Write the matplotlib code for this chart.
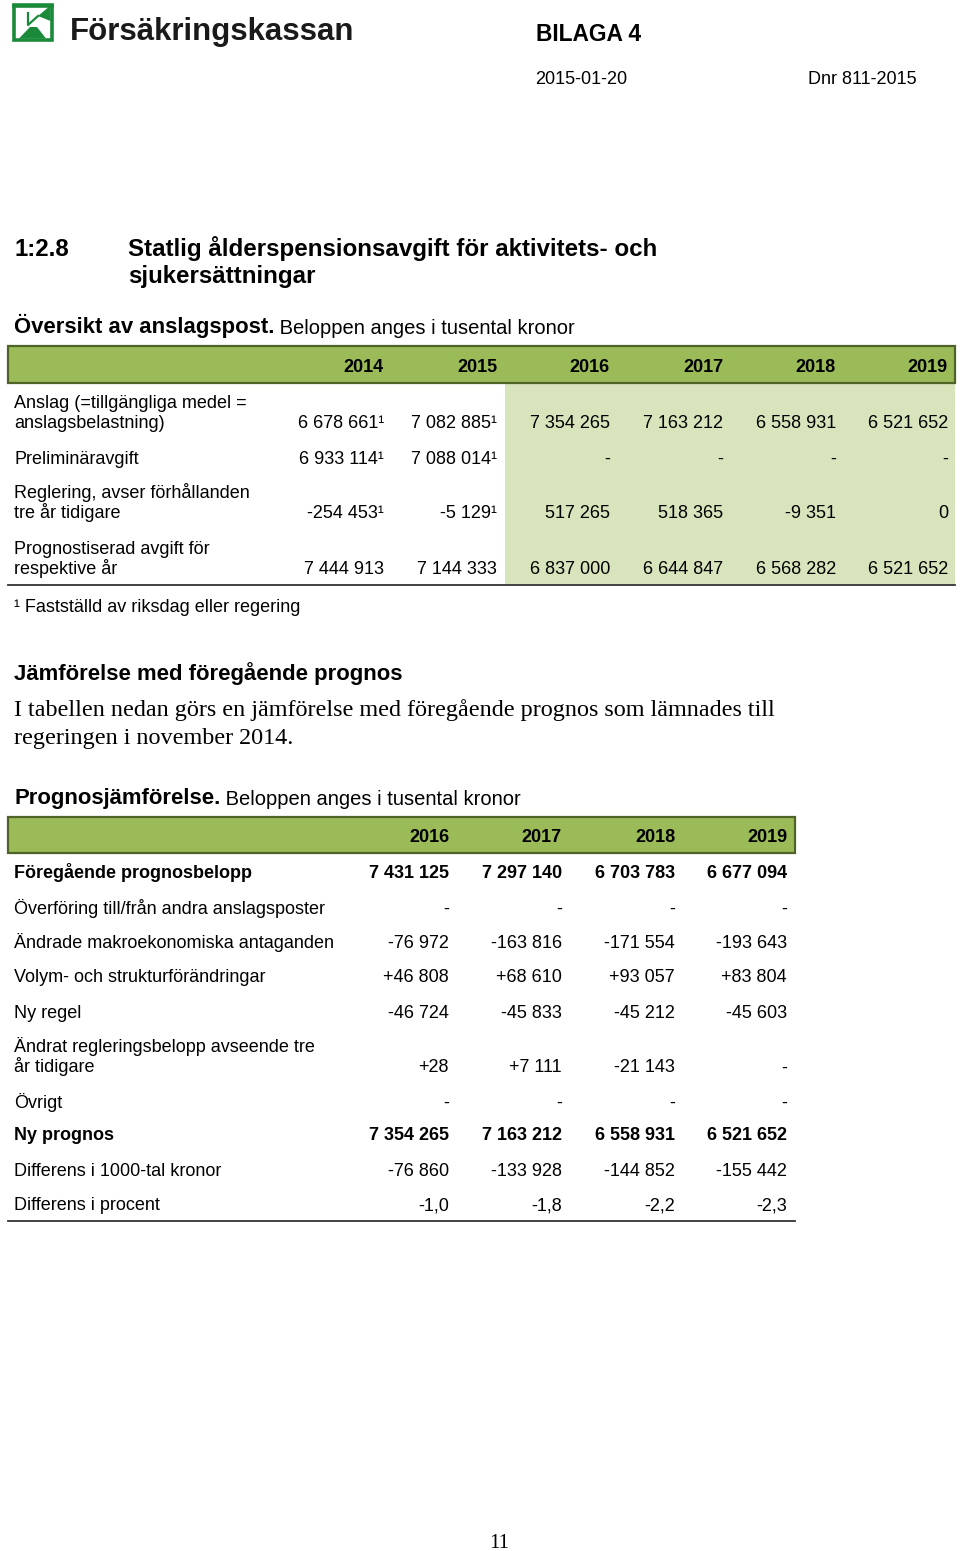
import matplotlib
matplotlib.use("Agg")
import matplotlib.pyplot as plt
from matplotlib.patches import Rectangle, Polygon

# ---------------- data ----------------
years1 = ["2014", "2015", "2016", "2017", "2018", "2019"]
labels1 = [
    ["Anslag (=tillgängliga medel =", "anslagsbelastning)"],
    ["Preliminäravgift"],
    ["Reglering, avser förhållanden", "tre år tidigare"],
    ["Prognostiserad avgift för", "respektive år"],
]
anslag = [6678661, 7082885, 7354265, 7163212, 6558931, 6521652]
prelim = [6933114, 7088014, None, None, None, None]
reglering = [-254453, -5129, 517265, 518365, -9351, 0]
prognostiserad = [7444913, 7144333, 6837000, 6644847, 6568282, 6521652]
footnote_flags1 = [
    [True, True, False, False, False, False],
    [True, True, False, False, False, False],
    [True, True, False, False, False, False],
    [False, False, False, False, False, False],
]

years2 = ["2016", "2017", "2018", "2019"]
labels2 = [
    ["Föregående prognosbelopp"],
    ["Överföring till/från andra anslagsposter"],
    ["Ändrade makroekonomiska antaganden"],
    ["Volym- och strukturförändringar"],
    ["Ny regel"],
    ["Ändrat regleringsbelopp avseende tre", "år tidigare"],
    ["Övrigt"],
    ["Ny prognos"],
    ["Differens i 1000-tal kronor"],
    ["Differens i procent"],
]
foregaende = [7431125, 7297140, 6703783, 6677094]
overforing = [None, None, None, None]
makro = [-76972, -163816, -171554, -193643]
volym = [46808, 68610, 93057, 83804]
ny_regel = [-46724, -45833, -45212, -45603]
andrat_regl = [28, 7111, -21143, None]
ovrigt = [None, None, None, None]
ny_prognos = [7354265, 7163212, 6558931, 6521652]
diff_tkr = [-76860, -133928, -144852, -155442]
diff_pct = [-1.0, -1.8, -2.2, -2.3]
bold_rows2 = [True, False, False, False, False, False, False, True, False, False]
signed_rows2 = [False, False, False, True, False, True, False, False, False, False]

# ---------------- helpers ----------------
SANS = "Liberation Sans"
SERIF = "Liberation Serif"
HEAD_GREEN = "#9bbb59"
LIGHT_GREEN = "#d8e4bc"
BORDER = "#4f6228"


def fmt(v, signed=False, pct=False):
    if v is None:
        return "-"
    if pct:
        return f"{v:.1f}".replace(".", ",")
    s = f"{abs(v):,}".replace(",", " ")
    if v < 0:
        s = "-" + s
    elif signed:
        s = "+" + s
    return s


fig = plt.figure(figsize=(9.6, 15.51), dpi=100)
ax = fig.add_axes([0, 0, 1, 1])
ax.set_xlim(0, 960)
ax.set_ylim(1551, 0)
ax.axis("off")


def T(x, yc, s, size=13, bold=False, ha="left", family=SANS, color="black"):
    em = size * 100 / 72
    return ax.text(x, yc + 0.36 * em, s, fontsize=size, fontfamily=family,
                   fontweight="bold" if bold else "normal", ha=ha, va="baseline",
                   color=color)


def T_after(prev, s, size=13, bold=False):
    return ax.annotate(s, xy=(1, 0), xycoords=prev, fontsize=size, fontfamily=SANS,
                       fontweight="bold" if bold else "normal", ha="left", va="bottom")

# ---------------- logo ----------------
g = "#1a8a3a"
ax.add_patch(Rectangle((13.5, 4.5), 38, 35, fill=False, edgecolor=g, lw=2.6))
ax.add_patch(Polygon([(38, 16), (50.5, 5.5), (50.5, 21)], closed=True, color=g, lw=0))
ax.add_patch(Polygon([(19, 38.5), (30, 27), (37, 27), (46, 38.5)], closed=True, color=g, lw=0))
ax.plot([28, 28, 38], [13, 25, 16], color=g, lw=1.6)
ax.plot([14, 52], [5.6, 5.6], color=g, lw=2.6)
T(70, 29, "Försäkringskassan", size=22.5, bold=True, color="#1a1a1a")

# ---------------- header ----------------
T(536, 33, "BILAGA 4", size=16.4, bold=True)
T(535, 77, "2015-01-20", size=13)
T(917, 77, "Dnr 811-2015", size=13, ha="right")

T(14, 247, "1:2.8", size=17.3, bold=True)
T(128, 247, "Statlig ålderspensionsavgift för aktivitets- och", size=17.4, bold=True)
T(128, 274, "sjukersättningar", size=17.4, bold=True)

t = T(14, 325, "Översikt av anslagspost.", size=15.9, bold=True)
T_after(t, " Beloppen anges i tusental kronor", size=14.5)

# ---------------- table 1 ----------------
col_right1 = [384, 497, 610, 723, 836, 948]
ax.add_patch(Rectangle((505, 383), 450, 201, color=LIGHT_GREEN, lw=0, zorder=0))
ax.add_patch(Rectangle((8, 346), 947, 37, facecolor=HEAD_GREEN, edgecolor=BORDER, lw=1.6, zorder=1))
for yr, xr in zip(years1, col_right1):
    T(xr, 365, yr, size=13, bold=True, ha="right")

rows1 = [anslag, prelim, reglering, prognostiserad]
row_y1 = [(402, 422), (457,), (492, 512), (547, 568)]
for lab, vals, ys, flags in zip(labels1, rows1, row_y1, footnote_flags1):
    for line, y in zip(lab, ys):
        T(14, y, line, size=13)
    yv = ys[-1]
    for v, xr, f in zip(vals, col_right1, flags):
        s = fmt(v)
        if f:
            s += "¹"
        T(xr, yv, s, size=13, ha="right")
ax.plot([8, 955], [585, 585], color="#333333", lw=1.3)
T(14, 605, "¹ Fastställd av riksdag eller regering", size=13)

# ---------------- comparison text ----------------
T(14, 672, "Jämförelse med föregående prognos", size=15.9, bold=True)
T(14, 707, "I tabellen nedan görs en jämförelse med föregående prognos som lämnades till",
  size=17.35, family=SERIF)
T(14, 735, "regeringen i november 2014.", size=17.35, family=SERIF)

t2 = T(14, 796, "Prognosjämförelse.", size=15.9, bold=True)
T_after(t2, " Beloppen anges i tusental kronor", size=14.5)

# ---------------- table 2 ----------------
col_right2 = [449, 562, 675, 787]
ax.add_patch(Rectangle((8, 817), 787, 36, facecolor=HEAD_GREEN, edgecolor=BORDER, lw=1.6, zorder=1))
for yr, xr in zip(years2, col_right2):
    T(xr, 836, yr, size=13, bold=True, ha="right")

rows2 = [foregaende, overforing, makro, volym, ny_regel, andrat_regl, ovrigt,
         ny_prognos, diff_tkr, diff_pct]
row_y2 = [(872,), (907,), (941,), (976,), (1011,), (1045, 1066), (1101,), (1134,),
          (1169,), (1204,)]
for i, (lab, vals, ys) in enumerate(zip(labels2, rows2, row_y2)):
    b = bold_rows2[i]
    for line, y in zip(lab, ys):
        T(14, y, line, size=13, bold=b)
    for v, xr in zip(vals, col_right2):
        T(xr, ys[-1], fmt(v, signed=signed_rows2[i], pct=(i == 9)), size=13,
          bold=b, ha="right")
ax.plot([8, 795], [1221, 1221], color="#333333", lw=1.3)

# ---------------- page number ----------------
T(499, 1540, "11", size=15, family=SERIF, ha="center")

fig.savefig("out.png", dpi=100)
